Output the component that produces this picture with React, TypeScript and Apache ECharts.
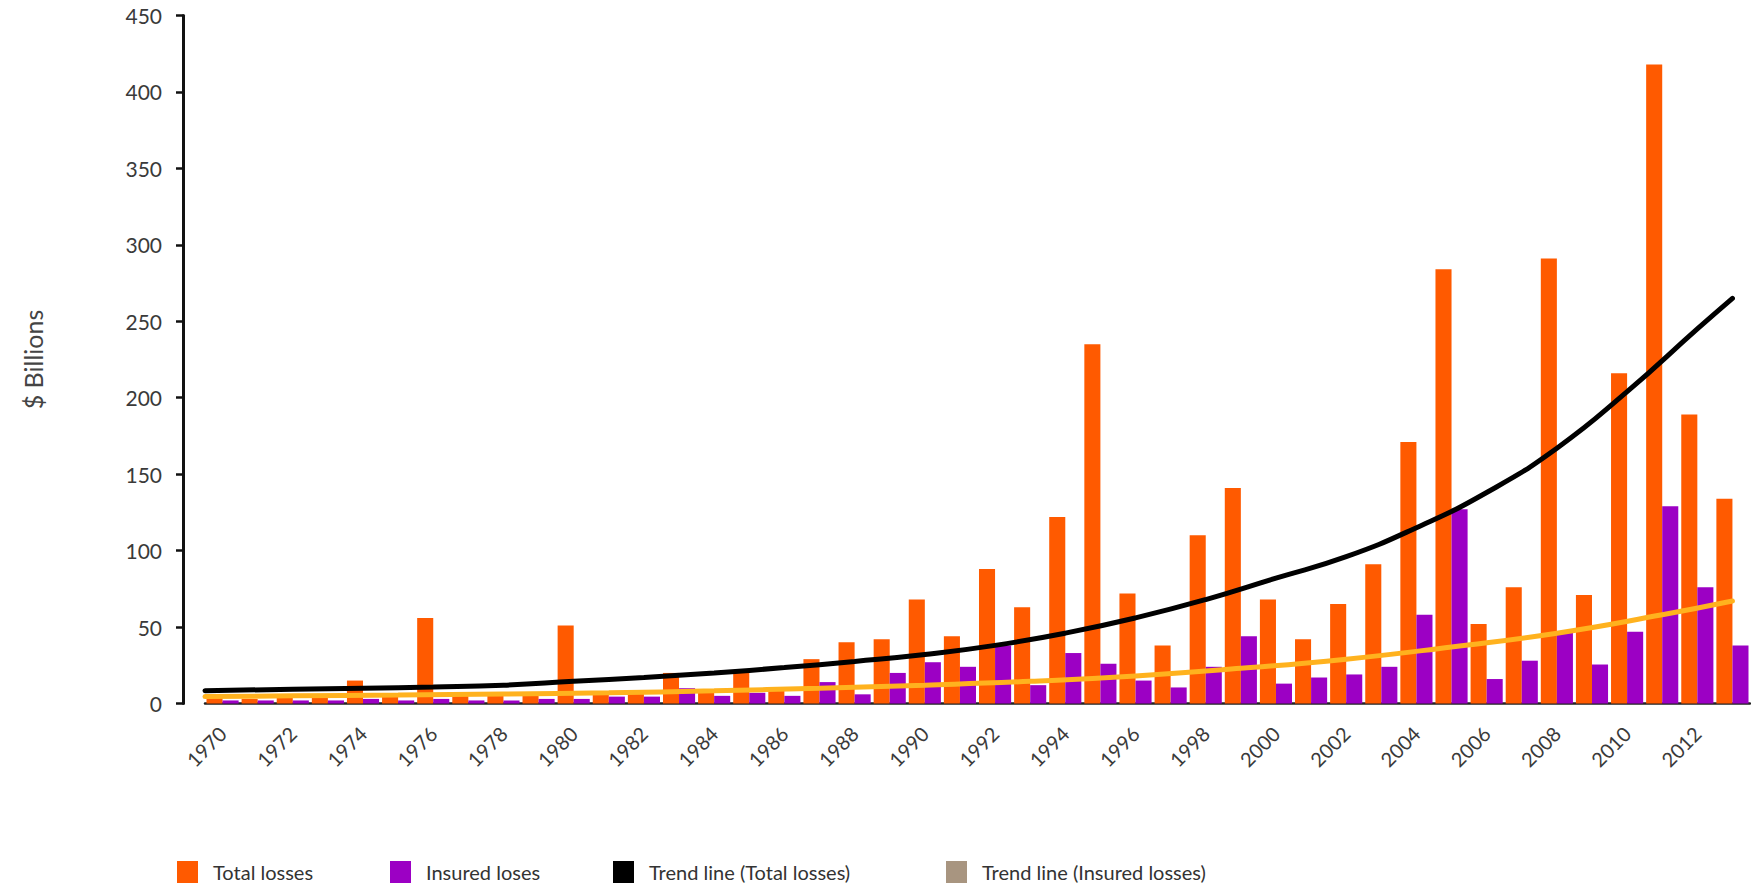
import React, { useEffect, useRef } from "react";
import * as echarts from "echarts";

const years: string[] = [];
for (let y = 1970; y <= 2013; y++) years.push(String(y));

const totalLosses = [
  4, 3, 5, 4, 15, 5, 56, 6, 5, 6,
  51, 7, 8, 20, 7, 20, 9, 29, 40, 42,
  68, 44, 88, 63, 122, 235, 72, 38, 110, 141,
  68, 42, 65, 91, 171, 284, 52, 76, 291, 71,
  216, 418, 189, 134,
];

const insuredLosses = [
  2, 2, 2, 2, 3, 2, 3, 2, 2, 3,
  3, 4.5, 4.5, 10, 5, 7, 5, 14, 6, 20,
  27, 24, 38, 12, 33, 26, 15, 10.5, 24, 44,
  13, 17, 19, 24, 58, 127, 16, 28, 47, 25.5,
  47, 129, 76, 38,
];

const trendTotalPoints: [number, number][] = [
  [1969.5, 8.4], [1972, 9.3], [1974, 10], [1976, 10.8], [1978, 12], [1980, 14.5],
  [1982, 17], [1984, 20], [1986, 23.5], [1988, 27.5], [1990, 32], [1992, 38],
  [1994, 46], [1996, 56], [1998, 68], [2000, 82], [2002, 96], [2004, 115],
  [2006, 138], [2008, 167], [2010, 204], [2012, 245], [2013, 265],
];

const trendInsuredPoints: [number, number][] = [
  [1969.5, 4.5], [1972, 5], [1975, 5.5], [1978, 6.2], [1981, 7], [1984, 8.3],
  [1987, 10], [1990, 12], [1993, 14.5], [1996, 18], [1999, 23], [2002, 29],
  [2005, 37], [2008, 46], [2011, 58], [2013, 67],
];

const seriesNames = [
  "Total losses",
  "Insured loses",
  "Trend line (Total losses)",
  "Trend line (Insured losses)",
];
const legendColors = ["#ff5a00", "#9c00c4", "#000000", "#a89580"];
const legendLefts = [177, 390, 613, 946];

const FONT = "Lato, 'Noto Sans', sans-serif";

export default function App() {
  const ref = useRef<HTMLDivElement>(null);

  useEffect(() => {
    if (!ref.current) return;
    const chart = echarts.init(ref.current, undefined, { renderer: "svg" });

    const legends = seriesNames.map((name, i) => ({
      show: true,
      left: legendLefts[i],
      top: 861,
      padding: 0,
      icon: "rect",
      itemWidth: 21,
      itemHeight: 22,
      itemGap: 0,
      textStyle: { color: "#333", fontSize: 20, fontFamily: FONT, padding: [0, 0, 0, 10] },
      data: [{ name, icon: "rect", itemStyle: { color: legendColors[i] } }],
      selectedMode: false,
    }));

    chart.setOption({
      animation: false,
      backgroundColor: "#ffffff",
      textStyle: { fontFamily: FONT },
      legend: legends,
      grid: { left: 205, right: 1, top: 15.5, bottom: 182.5, containLabel: false },
      xAxis: [
        {
          type: "category",
          data: years,
          offset: 12.5,
          axisLine: { show: true, lineStyle: { color: "#222", width: 2.5 } },
          axisTick: { show: false },
          axisLabel: {
            interval: 1,
            rotate: 45,
            margin: 14,
            color: "#3a3a3a",
            fontSize: 20,
            fontFamily: FONT,
          },
          splitLine: { show: false },
        },
        {
          type: "value",
          min: 1969.5,
          max: 2013.5,
          show: false,
          splitLine: { show: false },
        },
      ],
      yAxis: {
        type: "value",
        min: 0,
        max: 450,
        interval: 50,
        offset: 22,
        name: "$ Billions",
        nameLocation: "middle",
        nameRotate: 90,
        nameGap: 138,
        nameTextStyle: { color: "#444", fontSize: 25, fontFamily: FONT },
        axisLine: { show: true, lineStyle: { color: "#111", width: 3 } },
        axisTick: { show: true, length: 7, lineStyle: { color: "#111", width: 2.5 } },
        axisLabel: { color: "#3a3a3a", fontSize: 21, fontFamily: FONT, margin: 21 },
        splitLine: { show: false },
      },
      series: [
        {
          name: seriesNames[0],
          type: "bar",
          data: totalLosses,
          barGap: "0%",
          barCategoryGap: "8.5%",
          itemStyle: { color: legendColors[0] },
          z: 2,
        },
        {
          name: seriesNames[1],
          type: "bar",
          data: insuredLosses,
          barGap: "0%",
          barCategoryGap: "8.5%",
          itemStyle: { color: legendColors[1] },
          z: 2,
        },
        {
          name: seriesNames[2],
          type: "line",
          xAxisIndex: 1,
          data: trendTotalPoints,
          smooth: true,
          showSymbol: false,
          symbol: "none",
          itemStyle: { color: legendColors[2] },
          lineStyle: { color: "#000000", width: 5, cap: "round" },
          z: 5,
        },
        {
          name: seriesNames[3],
          type: "line",
          xAxisIndex: 1,
          data: trendInsuredPoints,
          smooth: true,
          showSymbol: false,
          symbol: "none",
          itemStyle: { color: legendColors[3] },
          lineStyle: { color: "#ffb21e", width: 5, cap: "round" },
          z: 4,
        },
      ],
    });

    return () => chart.dispose();
  }, []);

  return (
    <div
      ref={ref}
      style={{ position: "absolute", left: 0, top: 0, width: 1751, height: 886 }}
    />
  );
}
